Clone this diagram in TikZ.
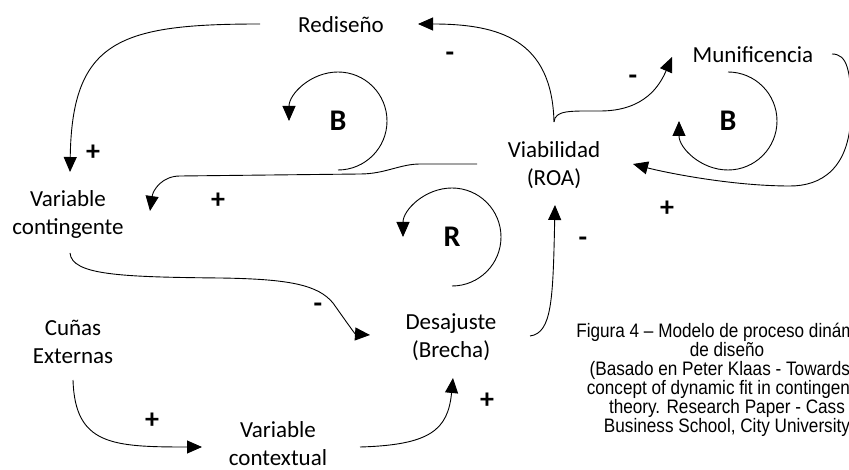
\documentclass[tikz,border=0pt]{standalone}
\usepackage{fontspec}
\setmainfont{Carlito}
\newfontfamily\capfont[FakeStretch=0.88]{Liberation Sans}
\usetikzlibrary{arrows.meta}
\tikzset{
  lbl/.style={font=\fontsize{23}{28}\selectfont, align=center, inner sep=0pt},
  loopl/.style={font=\bfseries\fontsize{30}{30}\selectfont, inner sep=0pt},
  sgn/.style={font=\bfseries\fontsize{28}{28}\selectfont, inner sep=0pt},
  link/.style={line width=0.9pt, -{Triangle[length=15pt,width=13pt]}},
  capt/.style={font=\capfont\fontsize{19.5}{19}\selectfont, align=center, inner sep=0pt}
}
\begin{document}
\begin{tikzpicture}[x=1pt,y=-1pt]
\useasboundingbox (0,0) rectangle (849,470);
\clip (0,0) rectangle (849,470);
% variables
\node[lbl] (redi) at (341,25) {Redise\~no};
\node[lbl] (munif) at (753,55) {Munificencia};
\node[lbl] (viab) at (554,165) {Viabilidad\\(ROA)};
\node[lbl] (varcont) at (68,214) {Variable\\contingente};
\node[lbl] (cunas) at (73,342) {Cu\~nas\\Externas};
\node[lbl] (varctx) at (278,444) {Variable\\contextual};
\node[lbl] (desaj) at (451,337) {Desajuste\\(Brecha)};
% loop labels
\node[loopl] (b1) at (338,121) {B};
\node[loopl] (b2) at (728,121) {B};
\node[loopl] (r1) at (452,237) {R};
% signs
\node[sgn] (p1) at (93,153) {+};
\node[sgn] (p2) at (218,201) {+};
\node[sgn] (m1) at (450,57) {-};
\node[sgn] (m2) at (633,80) {-};
\node[sgn] (p3) at (667,209) {+};
\node[sgn] (m3) at (583,242) {-};
\node[sgn] (m4) at (318,308) {-};
\node[sgn] (p4) at (152,421) {+};
\node[sgn] (p5) at (487,401) {+};
% caption
\node[capt] (cap) at (727,380) {Figura 4 – Modelo de proceso dinámico\\de diseño\\(Basado en Peter Klaas - Towards a\\concept of dynamic fit in contingency\\theory. Research Paper - Cass\\Business School, City University};
% links
\draw[link] ([shift={(-81,-1)}]redi.center) .. controls +(-140,0) and +(2,-132) .. ([shift={(2,-42)}]varcont.center);
\draw[link] ([shift={(0,-43)}]viab.center) .. controls +(-2,-82) and +(82,0) .. ([shift={(77,-1)}]redi.center);
\draw[link] ([shift={(0,-43)}]viab.center) .. controls +(1,-12) and +(-30,0) .. (600,111) .. controls +(45,0) and +(-12,28) .. ([shift={(-81,2)}]munif.center);
\draw[link] ([shift={(79,-1)}]munif.center) .. controls +(15,0) and +(0,-40) .. (851,110) .. controls +(0,60) and +(30,0) .. (790,186) .. controls +(-60,0) and +(30,8) .. ([shift={(79,-1)}]viab.center);
\draw[link] ([shift={(-77,-1)}]viab.center) -- (420,164) .. controls (400,164) and (385,174) .. (360,174) -- (180,176) .. controls (162,176) and (153,190) .. ([shift={(82,-3)}]varcont.center);
\draw[link] ([shift={(2,39)}]varcont.center) .. controls (72,275) and (120,277) .. (220,278) .. controls (290,279) and (318,285) .. (333,303) .. controls (345,320) and (355,334) .. ([shift={(-81,-2)}]desaj.center);
\draw[link] ([shift={(0,38)}]cunas.center) .. controls +(2,65) and +(-90,0) .. ([shift={(-76,3)}]varctx.center);
\draw[link] ([shift={(82,3)}]varctx.center) .. controls +(70,-2) and +(-5,52) .. ([shift={(2,41)}]desaj.center);
\draw[link] ([shift={(79,-1)}]desaj.center) .. controls +(22,-3) and +(-2,95) .. ([shift={(1,40)}]viab.center);
% loops
\draw[link] ([shift={(0,49)}]b1.center) arc[start angle=90, end angle=-180, radius=49];
\draw[link] ([shift={(0,49)}]r1.center) arc[start angle=90, end angle=-180, radius=49];
\draw[link] ([shift={(0,-49)}]b2.center) arc[start angle=-90, end angle=180, radius=49];
\end{tikzpicture}
\end{document}
